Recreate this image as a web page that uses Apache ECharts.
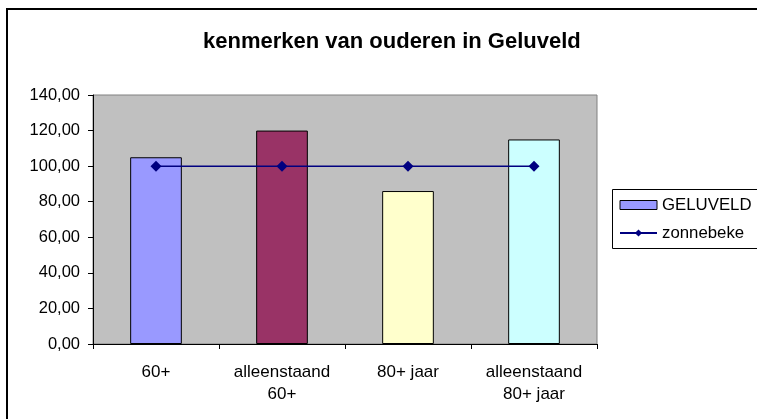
<!DOCTYPE html>
<html>
<head>
<meta charset="utf-8">
<script src="https://cdn.jsdelivr.net/npm/echarts@6/dist/echarts.min.js"></script>
<style>
html,body{margin:0;padding:0;background:#fff;}
#chart{width:757px;height:419px;}
</style>
</head>
<body>
<div id="chart"></div>
<script>
const titleText = 'kenmerken van ouderen in Geluveld';
const categories = ['60+', 'alleenstaand\n60+', '80+ jaar', 'alleenstaand\n80+ jaar'];
const geluveld = [105, 120, 86, 115];
const zonnebeke = [100, 100, 100, 100];
const barColors = ['#9999FF', '#993366', '#FFFFCC', '#CCFFFF'];
const yTicks = { min: 0, max: 140, interval: 20 };

const chart = echarts.init(document.getElementById('chart'), null, { renderer: 'canvas' });
const font = 'Liberation Sans, Arial, sans-serif';

chart.setOption({
  animation: false,
  backgroundColor: '#ffffff',
  textStyle: { fontFamily: font },
  graphic: [{
    type: 'rect',
    shape: { x: 7, y: 9, width: 780, height: 440 },
    style: { fill: 'none', stroke: '#000', lineWidth: 2 },
    silent: true, z: -1
  }, {
    type: 'rect',
    shape: { x: 612.5, y: 189.5, width: 200, height: 59 },
    style: { fill: '#fff', stroke: '#000', lineWidth: 1 },
    silent: true, z: 0
  }],
  title: {
    text: titleText,
    left: 198,
    top: 26,
    textStyle: { fontSize: 22, fontWeight: 'bold', color: '#000', fontFamily: font }
  },
  legend: {
    orient: 'vertical',
    left: 612,
    top: 189,
    padding: [7, 10, 7, 7],
    itemGap: 10,
    itemWidth: 37,
    itemHeight: 9,
    borderWidth: 0,
    z: 5,
    textStyle: { fontSize: 16.8, color: '#000', lineHeight: 18, fontFamily: font },
    data: [
      { name: 'GELUVELD', icon: 'rect', itemStyle: { color: '#9999FF', borderColor: '#000', borderWidth: 1 } },
      { name: 'zonnebeke' }
    ]
  },
  grid: {
    left: 93, right: 160, top: 95, bottom: 75,
    show: true,
    backgroundColor: '#C0C0C0',
    borderColor: '#808080',
    borderWidth: 1
  },
  xAxis: {
    type: 'category',
    data: categories,
    axisLine: { lineStyle: { color: '#000', width: 1 } },
    axisTick: { show: true, length: 5, lineStyle: { color: '#000' } },
    axisLabel: { color: '#000', fontSize: 17, lineHeight: 22, margin: 17, interval: 0, fontFamily: font }
  },
  yAxis: {
    type: 'value',
    min: yTicks.min, max: yTicks.max, interval: yTicks.interval,
    axisLine: { show: true, lineStyle: { color: '#000', width: 1 } },
    axisTick: { show: true, length: 5, lineStyle: { color: '#000' } },
    splitLine: { show: false },
    axisLabel: {
      color: '#000', fontSize: 16.5, margin: 13, fontFamily: font,
      formatter: v => v.toFixed(2).replace('.', ',')
    }
  },
  series: [
    {
      name: 'GELUVELD',
      type: 'bar',
      barWidth: '41%',
      itemStyle: { color: '#9999FF', borderColor: '#000', borderWidth: 1 },
      data: geluveld.map((v, i) => ({ value: v, itemStyle: { color: barColors[i] } }))
    },
    {
      name: 'zonnebeke',
      type: 'line',
      data: zonnebeke,
      symbol: 'diamond',
      symbolSize: 11,
      lineStyle: { color: '#000080', width: 1.5 },
      itemStyle: { color: '#000080' }
    }
  ]
});
</script>
</body>
</html>
